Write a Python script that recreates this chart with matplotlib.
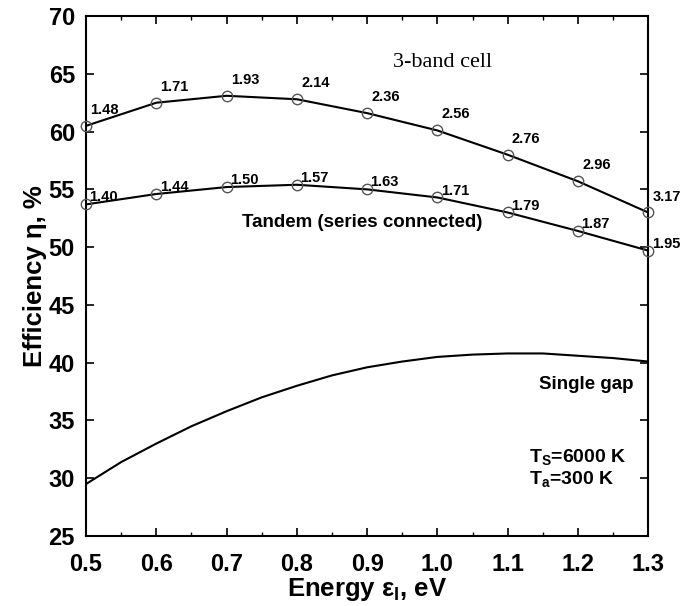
import matplotlib
matplotlib.use("Agg")
import matplotlib.pyplot as plt
from matplotlib.ticker import MultipleLocator

plt.rcParams['font.family'] = ['Liberation Sans', 'DejaVu Sans']
plt.rcParams['mathtext.fontset'] = 'custom'
plt.rcParams['mathtext.rm'] = 'Liberation Sans'
plt.rcParams['mathtext.it'] = 'Liberation Sans:italic'
plt.rcParams['mathtext.bf'] = 'Liberation Sans:bold'

# energies of the lowest gap (eV)
energy = [0.5, 0.6, 0.7, 0.8, 0.9, 1.0, 1.1, 1.2, 1.3]

# 3-band cell efficiency and the upper gap labels
eff_3band = [60.5, 62.5, 63.1, 62.8, 61.6, 60.1, 58.0, 55.7, 53.0]
labels_3band = ["1.48", "1.71", "1.93", "2.14", "2.36", "2.56", "2.76", "2.96", "3.17"]

# tandem (series connected) efficiency and labels
eff_tandem = [53.7, 54.6, 55.2, 55.4, 55.0, 54.3, 53.0, 51.4, 49.7]
labels_tandem = ["1.40", "1.44", "1.50", "1.57", "1.63", "1.71", "1.79", "1.87", "1.95"]

# single gap efficiency (read at finer steps, no markers)
energy_single = [0.5, 0.55, 0.6, 0.65, 0.7, 0.75, 0.8, 0.85, 0.9, 0.95, 1.0,
                 1.05, 1.1, 1.15, 1.2, 1.25, 1.3]
eff_single = [29.5, 31.4, 33.0, 34.5, 35.8, 37.0, 38.0, 38.9, 39.6, 40.1, 40.5,
              40.7, 40.8, 40.8, 40.6, 40.4, 40.1]

fig = plt.figure(figsize=(6.83, 6.06), dpi=100)
ax = fig.add_axes([0.126, 0.1155, 0.823, 0.858])

# curves and open circle markers
ax.plot(energy, eff_3band, color='black', lw=1.5, zorder=2)
ax.plot(energy, eff_3band, 'o', ms=7.5, mfc='none', mec='#555555', mew=1.0, zorder=3,
        clip_on=False)
ax.plot(energy, eff_tandem, color='black', lw=1.5, zorder=2)
ax.plot(energy, eff_tandem, 'o', ms=7.5, mfc='none', mec='#555555', mew=1.0, zorder=3,
        clip_on=False)
ax.plot(energy_single, eff_single, color='black', lw=1.5)

# gap labels next to the markers
for x, y, s in zip(energy, eff_3band, labels_3band):
    ax.annotate(s, (x, y), xytext=(3, 11.5), textcoords='offset points',
                fontsize=10.5, fontweight='bold', ha='left', va='center',
                annotation_clip=False)
for x, y, s in zip(energy, eff_tandem, labels_tandem):
    ax.annotate(s, (x, y), xytext=(2.5, 5), textcoords='offset points',
                fontsize=10.5, fontweight='bold', ha='left', va='center',
                annotation_clip=False)

ax.text(0.937, 66.0, "3-band cell", family='Liberation Serif', fontsize=16,
        ha='left', va='center')
ax.text(0.893, 52.1, "Tandem (series connected)", fontsize=13.5, fontweight='bold',
        ha='center', va='center')
ax.text(1.212, 38.1, "Single gap", fontsize=13.5, fontweight='bold',
        ha='center', va='center')
ax.text(1.13, 31.8, r"T$_\mathregular{S}$=6000 K", fontsize=14, fontweight='bold',
        ha='left', va='center')
ax.text(1.13, 29.9, r"T$_\mathregular{a}$=300 K", fontsize=14, fontweight='bold',
        ha='left', va='center')

# axes, ticks
ax.set_xlim(0.5, 1.3)
ax.set_ylim(25, 70)
ax.xaxis.set_major_locator(MultipleLocator(0.1))
ax.xaxis.set_minor_locator(MultipleLocator(0.05))
ax.yaxis.set_major_locator(MultipleLocator(5))
ax.xaxis.set_major_formatter(plt.FuncFormatter(lambda v, p: f"{v:.1f}"))
ax.tick_params(which='both', direction='in', top=True, right=True)
ax.tick_params(which='major', length=6, width=1.2, labelsize=17)
ax.tick_params(axis='x', which='major', pad=12)
ax.tick_params(axis='y', which='major', pad=8)
ax.tick_params(which='minor', length=3, width=1.0)
for lab in ax.get_xticklabels() + ax.get_yticklabels():
    lab.set_fontweight('bold')
for sp in ax.spines.values():
    sp.set_linewidth(1.5)

ax.set_xlabel("Energy ε$_\\mathregular{I}$, eV", fontsize=18.5,
              fontweight='bold', labelpad=0)
ax.set_ylabel("Efficiency η, %", fontsize=18.5, fontweight='bold', labelpad=1)

fig.savefig("out.png", dpi=100)
